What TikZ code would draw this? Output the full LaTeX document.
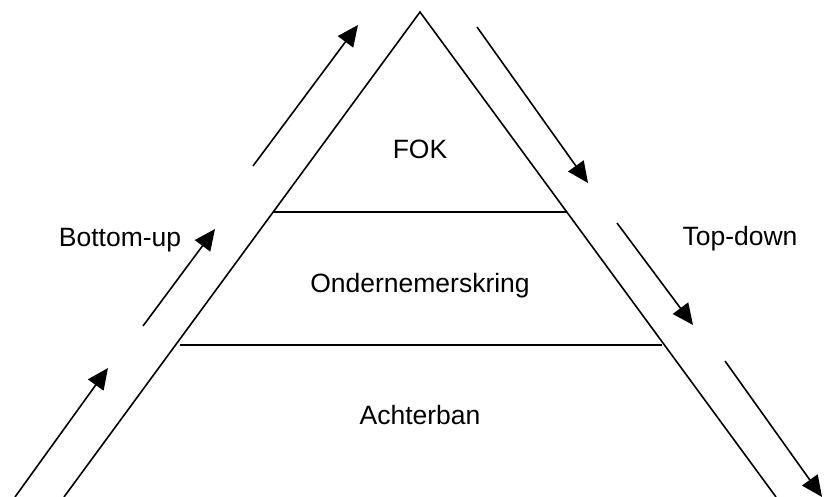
\documentclass[tikz,border=0pt]{standalone}
\usepackage{fontspec}
\setmainfont{Liberation Sans}
\usetikzlibrary{arrows.meta}
\begin{document}
\begin{tikzpicture}[x=1pt,y=-1pt,
  edge/.style={line width=1.6pt},
  flow/.style={line width=1.6pt,-{Triangle[length=21pt,width=19pt]}},
  lbl/.style={font=\fontsize{26.5}{30}\selectfont,inner sep=0pt,anchor=base}]
\useasboundingbox (0,0) rectangle (825,497);
% pyramid outline and layers
\coordinate (apex) at (420,12);
\coordinate (bl) at (64,497);
\coordinate (br) at (776,497);
\draw[edge] (bl) -- (apex) -- (br);
\coordinate (l1a) at (274,212); \coordinate (l1b) at (566,212);
\coordinate (l2a) at (180,345); \coordinate (l2b) at (662,345);
\draw[edge] (l1a) -- (l1b);
\draw[edge] (l2a) -- (l2b);
\node[lbl] (fok) at (420,159) {FOK};
\node[lbl] (ok) at (420,292) {Ondernemerskring};
\node[lbl] (ab) at (420,424) {Achterban};
% bottom-up arrows
\coordinate (u1s) at (15,497); \coordinate (u1e) at (108,368);
\coordinate (u2s) at (143,326); \coordinate (u2e) at (215,229);
\coordinate (u3s) at (253,166); \coordinate (u3e) at (358,25);
\draw[flow] (u1s) -- (u1e);
\draw[flow] (u2s) -- (u2e);
\draw[flow] (u3s) -- (u3e);
% top-down arrows
\coordinate (d1s) at (477,27); \coordinate (d1e) at (588,183);
\coordinate (d2s) at (617,223); \coordinate (d2e) at (693,325);
\coordinate (d3s) at (725,361); \coordinate (d3e) at (822,497);
\draw[flow] (d1s) -- (d1e);
\draw[flow] (d2s) -- (d2e);
\draw[flow] (d3s) -- (d3e);
\node[lbl] (bu) at (120,247) {Bottom-up};
\node[lbl] (td) at (740,246) {Top-down};
\end{tikzpicture}
\end{document}
